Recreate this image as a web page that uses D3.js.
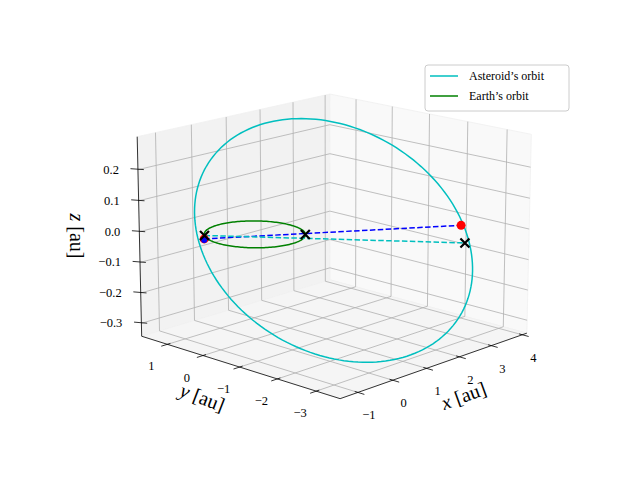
<!DOCTYPE html>
<html><head><meta charset="utf-8">
<script src="https://cdn.jsdelivr.net/npm/d3@7"></script>
<style>body{margin:0;background:#fff}text{font-family:"Liberation Serif","DejaVu Serif",serif}</style>
</head><body><svg id="c" width="640" height="480"></svg>
<script>
// ---- data ----
const xDomain = [-1.5, 4.15];
const yDomain = [-3.6, 1.74];
const zDomain = [-0.343, 0.305];
const xTicks = [-1, 0, 1, 2, 3, 4];
const yTicks = [-3, -2, -1, 0, 1];
const zTicks = [-0.3, -0.2, -0.1, 0.0, 0.1, 0.2];
const earthRadius = [1.0];
const asteroidCenter = [1.245, -1.005, -0.033];
const asteroidAxisU = [2.05, -1.65, 0.03];
const asteroidAxisW = [-0.65, 0.67, 0.393];
const earthMarks = [[-0.78, 0.63, 0.0], [0.68, -0.73, 0.0]];
const asteroidMarks = [[3.33, -2.63, -0.05]];
const redDots = [[-0.8, 0.62, -0.01], [3.3, -2.55, 0.006]];
const blueDots = [[-0.8, 0.62, -0.01]];
const blueLine = [[-0.8, 0.62, -0.01], [3.3, -2.55, 0.006]];
const cyanLine = [[-0.78, 0.63, 0.0], [3.33, -2.63, -0.05]];
const legendLabels = ["Asteroid\u2019s orbit", "Earth\u2019s orbit"];

// ---- projection ----
const elev = 15.5 * Math.PI / 180, azim = -136.5 * Math.PI / 180, D = 35;
const sx = d3.scaleLinear().domain(xDomain).range([-2, 2]);
const sy = d3.scaleLinear().domain(yDomain).range([-2, 2]);
const sz = d3.scaleLinear().domain(zDomain).range([-1.5, 1.5]);
const R = [-Math.sin(azim), Math.cos(azim), 0];
const U = [-Math.sin(elev) * Math.cos(azim), -Math.sin(elev) * Math.sin(azim), Math.cos(elev)];
const F = [Math.cos(elev) * Math.cos(azim), Math.cos(elev) * Math.sin(azim), Math.sin(elev)];
function raw(p) {
  const v = [sx(p[0]), sy(p[1]), sz(p[2])];
  const dot = a => a[0] * v[0] + a[1] * v[1] + a[2] * v[2];
  const f = D / (D - dot(F));
  return [dot(R) * f, -dot(U) * f];
}
const [x0, x1] = xDomain, [y0, y1] = yDomain, [z0, z1] = zDomain;
const calib = [
  [[x0, y0, z0], [335, 393]], [[x0, y1, z0], [140, 335]], [[x1, y0, z0], [528, 330]],
  [[x1, y1, z0], [333, 283]], [[x0, y1, z1], [133, 138]], [[x1, y1, z1], [333, 97]], [[x1, y0, z1], [535, 137]]];
const P = calib.map(c => raw(c[0])), Q = calib.map(c => c[1]);
const pm = [d3.mean(P, p => p[0]), d3.mean(P, p => p[1])], qm = [d3.mean(Q, p => p[0]), d3.mean(Q, p => p[1])];
let num = 0, den = 0;
P.forEach((p, i) => { const a = [p[0] - pm[0], p[1] - pm[1]], b = [Q[i][0] - qm[0], Q[i][1] - qm[1]]; num += a[0] * b[0] + a[1] * b[1]; den += a[0] * a[0] + a[1] * a[1]; });
const S = num / den, T = [qm[0] - S * pm[0], qm[1] - S * pm[1]];
const proj = p => { const r = raw(p); return [S * r[0] + T[0], S * r[1] + T[1]]; };

const svg = d3.select("#c");
const line = d3.line().x(d => proj(d)[0]).y(d => proj(d)[1]);
const panes = [
  {pts: [[x0, y1, z0], [x1, y1, z0], [x1, y1, z1], [x0, y1, z1]], fill: "#f2f2f2"},
  {pts: [[x1, y0, z0], [x1, y1, z0], [x1, y1, z1], [x1, y0, z1]], fill: "#f9f9f9"},
  {pts: [[x0, y0, z0], [x1, y0, z0], [x1, y1, z0], [x0, y1, z0]], fill: "#f5f5f5"}];
panes.forEach(p => svg.append("path").attr("d", line(p.pts) + "Z").attr("fill", p.fill).attr("stroke", "#f0f0f0").attr("stroke-width", 0.8));
const grid = [];
xTicks.forEach(t => { grid.push([[t, y0, z0], [t, y1, z0]]); grid.push([[t, y1, z0], [t, y1, z1]]); });
yTicks.forEach(t => { grid.push([[x0, t, z0], [x1, t, z0]]); grid.push([[x1, t, z0], [x1, t, z1]]); });
zTicks.forEach(t => { grid.push([[x0, y1, t], [x1, y1, t]]); grid.push([[x1, y0, t], [x1, y1, t]]); });
grid.forEach(g => svg.append("path").attr("d", line(g)).attr("stroke", "#b0b0b0").attr("stroke-width", 0.8).attr("fill", "none"));
const axis = (a, b) => svg.append("path").attr("d", line([a, b])).attr("stroke", "#000").attr("stroke-width", 0.8).attr("fill", "none");
axis([x0, y0, z0], [x1, y0, z0]); axis([x0, y0, z0], [x0, y1, z0]); axis([x0, y1, z0], [x0, y1, z1]);
const fmt = v => (v < 0 ? "\u2212" : "") + Math.abs(v);
const fmtz = v => (v < 0 ? "\u2212" : "") + Math.abs(v).toFixed(1);
const dy = (y1 - y0) * 0.03, dx = (x1 - x0) * 0.03;
xTicks.forEach(t => {
  axis([t, y0 + dy * 0.5, z0], [t, y0 - dy, z0]);
  const p = proj([t, y0, z0]);
  svg.append("text").attr("x", p[0] + 11).attr("y", p[1] + 27).attr("text-anchor", "middle").attr("font-size", 12.5).text(fmt(t));
});
yTicks.forEach(t => {
  axis([x0 + dx * 0.5, t, z0], [x0 - dx, t, z0]);
  const p = proj([x0, t, z0]);
  svg.append("text").attr("x", p[0] - 16).attr("y", p[1] + 26).attr("text-anchor", "middle").attr("font-size", 12.5).text(fmt(t));
});
zTicks.forEach(t => {
  axis([x0 + dx * 0.5, y1 - dy * 0.5, t], [x0 - dx * 0.3, y1 + dy, t]);
  const p = proj([x0, y1, t]);
  svg.append("text").attr("x", p[0] - 19).attr("y", p[1] + 4).attr("text-anchor", "end").attr("font-size", 12.5).text(fmtz(t));
});
const lab = (x, y, rot, parts) => {
  const t = svg.append("text").attr("transform", `translate(${x},${y}) rotate(${rot})`).attr("text-anchor", "middle").attr("font-size", 20);
  parts.forEach(p => t.append("tspan").attr("font-style", p[1] ? "italic" : null).text(p[0]));
};
lab(466, 402, -20, [["x", 1], [" [au]", 0]]);
lab(200, 404, 21, [["y", 1], [" [au]", 0]]);
lab(70, 236, 90, [["z", 1], [" [au]", 0]]);

const tt = d3.range(0, 361, 2).map(d => d * Math.PI / 180);
const earthOrbit = tt.map(t => [earthRadius[0] * Math.cos(t), earthRadius[0] * Math.sin(t), 0]);
const astOrbit = tt.map(t => [0, 1, 2].map(k => asteroidCenter[k] + asteroidAxisU[k] * Math.cos(t) + asteroidAxisW[k] * Math.sin(t)));
svg.append("path").attr("d", line(astOrbit)).attr("stroke", "#00bfbf").attr("stroke-width", 1.5).attr("fill", "none");
svg.append("path").attr("d", line(earthOrbit)).attr("stroke", "#008000").attr("stroke-width", 1.5).attr("fill", "none");
svg.append("path").attr("d", line(blueLine)).attr("stroke", "#0000ff").attr("stroke-width", 1.5).attr("stroke-dasharray", "5.5,2.4").attr("fill", "none");
svg.append("path").attr("d", line(cyanLine)).attr("stroke", "#00bfbf").attr("stroke-width", 1.5).attr("stroke-dasharray", "5.5,2.4").attr("fill", "none");
redDots.forEach(d => { const p = proj(d); svg.append("circle").attr("cx", p[0]).attr("cy", p[1]).attr("r", 4.5).attr("fill", "#ff0000"); });
blueDots.forEach(d => { const p = proj(d); svg.append("circle").attr("cx", p[0]).attr("cy", p[1] + 1).attr("r", 3).attr("fill", "#0000ff"); });
const cross = (d, col) => { const p = proj(d); const s = 4.5;
  svg.append("path").attr("d", `M${p[0] - s},${p[1] - s}L${p[0] + s},${p[1] + s}M${p[0] - s},${p[1] + s}L${p[0] + s},${p[1] - s}`).attr("stroke", col).attr("stroke-width", 2.2); };
earthMarks.forEach(d => cross(d, "#000"));
asteroidMarks.forEach(d => cross(d, "#000"));

const lg = svg.append("g").attr("transform", "translate(425,65)");
lg.append("rect").attr("width", 144).attr("height", 46).attr("rx", 3).attr("fill", "#fff").attr("fill-opacity", 0.8).attr("stroke", "#ccc");
legendLabels.forEach((l, i) => {
  lg.append("line").attr("x1", 5).attr("x2", 33).attr("y1", 11 + i * 20).attr("y2", 11 + i * 20).attr("stroke", i ? "#008000" : "#00bfbf").attr("stroke-width", 1.5);
  lg.append("text").attr("x", 44).attr("y", 15 + i * 20).attr("font-size", 12).text(l);
});
</script></body></html>
